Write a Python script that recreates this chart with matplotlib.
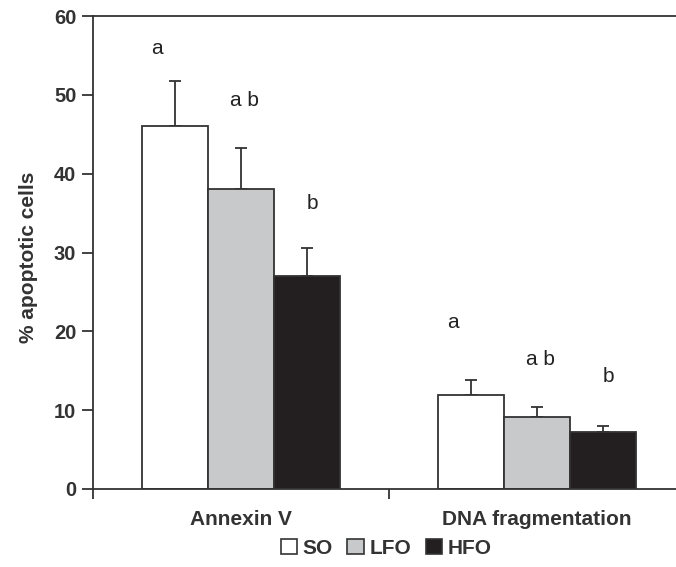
import numpy as np
import matplotlib.pyplot as plt
from matplotlib.patches import Patch

plt.rcParams['font.family'] = ['Liberation Sans', 'DejaVu Sans']

categories = ["Annexin V", "DNA fragmentation"]
groups = ["SO", "LFO", "HFO"]
means = {"SO": [46.0, 11.9], "LFO": [38.1, 9.1], "HFO": [27.0, 7.2]}
errors = {"SO": [5.8, 1.9], "LFO": [5.1, 1.3], "HFO": [3.6, 0.8]}
letters = {"SO": ["a", "a"], "LFO": ["a b", "a b"], "HFO": ["b", "b"]}
letter_y = {"SO": [55.9, 21.1], "LFO": [49.3, 16.4], "HFO": [36.2, 14.3]}
colors = {"SO": "white", "LFO": "#c8c9cb", "HFO": "#231f20"}

edge = "#333333"
width = 0.223
offsets = [-width, 0, width]
letter_dx = [-0.06, 0.01, 0.02]

fig = plt.figure(figsize=(6.76, 5.67), dpi=100)
ax = fig.add_axes([93/676, (567-489)/567, (685-93)/676, (489-16)/567])

x = np.arange(len(categories)) + 0.5
for g, off, dx in zip(groups, offsets, letter_dx):
    xs = x + off
    ax.bar(xs, means[g], width, color=colors[g], edgecolor=edge, linewidth=1.3, zorder=2)
    ax.errorbar(xs, means[g], yerr=[np.zeros(len(xs)), errors[g]], fmt="none",
                ecolor=edge, elinewidth=1.3, capsize=4.5, capthick=1.3, zorder=1)
    for xi, t, ly in zip(xs, letters[g], letter_y[g]):
        ax.text(xi + dx, ly, t, ha="center", va="center", fontsize=15, color="#222222")

ax.set_xlim(0, 2)
ax.set_ylim(0, 60)
ax.set_yticks(range(0, 61, 10))
ax.set_xticks(x)
ax.set_xticklabels(categories, fontweight="bold", fontsize=15, color="#333333")
ax.set_xticks([0, 1, 2], minor=True)
ax.tick_params(axis="x", which="major", length=0, pad=15)
ax.tick_params(axis="x", which="minor", length=7, width=1.3, color=edge, direction="out")
ax.tick_params(axis="y", length=8, width=1.3, color=edge, pad=4, labelsize=14.5, labelcolor="#333333")
for lab in ax.get_yticklabels():
    lab.set_fontweight("bold")

for s in ["left", "bottom", "top"]:
    ax.spines[s].set_linewidth(1.3)
    ax.spines[s].set_color(edge)
ax.spines["right"].set_visible(False)

ax.set_ylabel("% apoptotic cells", fontweight="bold", fontsize=15, color="#333333")
ax.yaxis.set_label_coords(-0.093, 0.49)

handles = [Patch(facecolor=colors[g], edgecolor=edge, linewidth=1.2) for g in groups]
leg = ax.legend(handles, groups, loc="center", bbox_to_anchor=(0.495, -0.125), ncol=3,
                frameon=False, handlelength=0.8, handleheight=0.8, handletextpad=0.25,
                columnspacing=0.7, borderpad=0, prop={"weight": "bold", "size": 15})
for t in leg.get_texts():
    t.set_color("#333333")

fig.savefig("out.png", dpi=100)
